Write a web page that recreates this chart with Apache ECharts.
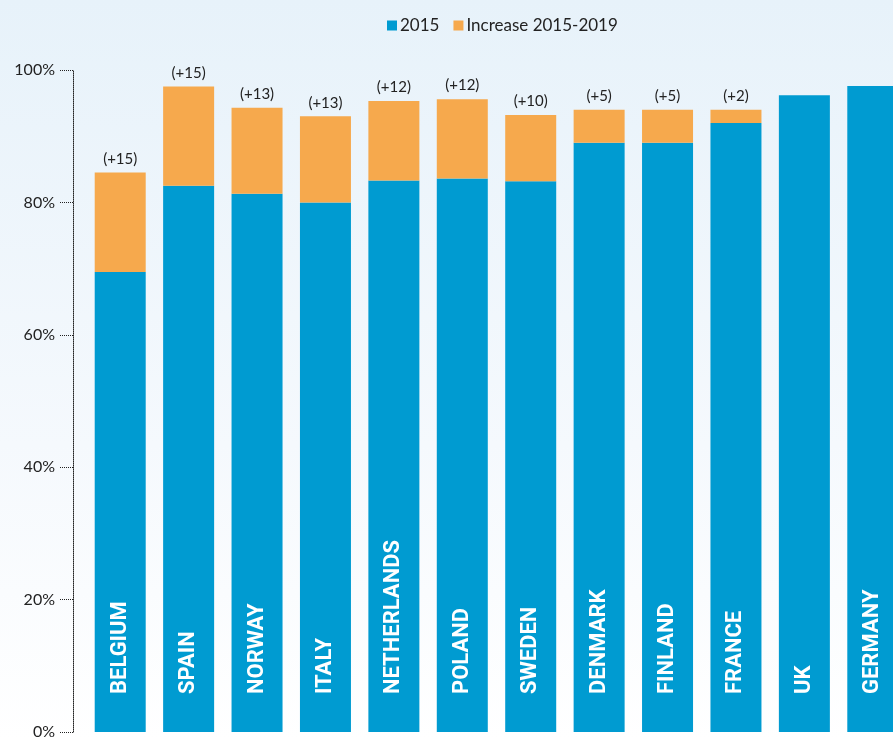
<!DOCTYPE html>
<html>
<head>
<meta charset="utf-8">
<script src="https://cdn.jsdelivr.net/npm/echarts@6/dist/echarts.min.js"></script>
<style>
  html, body { margin: 0; padding: 0; background: #ffffff; overflow: hidden; }
  #chart { width: 930px; height: 740px; }
</style>
</head>
<body>
<div id="chart"></div>
<script>
// Share of population, 2015 level and increase up to 2019 (percentage points)
const countries = ['BELGIUM', 'SPAIN', 'NORWAY', 'ITALY', 'NETHERLANDS', 'POLAND', 'SWEDEN', 'DENMARK', 'FINLAND', 'FRANCE', 'UK', 'GERMANY'];
const base2015 = [69.5, 82.5, 81.3, 80, 83.3, 83.6, 83.2, 89, 89, 92, 96.2, 97.6];
const increase = [15, 15, 13, 13, 12, 12, 10, 5, 5, 2, 0, 0];
const yTicks = [0, 20, 40, 60, 80, 100];

const BLUE = '#009bd1';
const ORANGE = '#f6a94d';

const chart = echarts.init(document.getElementById('chart'), null, { renderer: 'canvas' });

chart.setOption({
  backgroundColor: {
    type: 'linear', x: 0, y: 0, x2: 0, y2: 1,
    colorStops: [
      { offset: 0, color: '#e7f2fa' },
      { offset: 0.6, color: '#f5f9fd' },
      { offset: 1, color: '#ffffff' }
    ]
  },
  animation: false,
  textStyle: { fontFamily: 'Lato, "Open Sans", sans-serif' },
  legend: {
    top: 12,
    left: 382,
    itemWidth: 10,
    itemHeight: 10,
    itemGap: 14,
    icon: 'rect',
    textStyle: { fontSize: 17, color: '#222', padding: [0, 0, 0, -2] },
    data: ['2015', 'Increase 2015-2019']
  },
  grid: { left: 86, top: 70, width: 821, bottom: 6, containLabel: false },
  xAxis: {
    type: 'category',
    data: countries,
    axisLine: { show: false },
    axisTick: { show: false },
    axisLabel: { show: false }
  },
  yAxis: {
    type: 'value',
    min: yTicks[0],
    max: yTicks[yTicks.length - 1],
    interval: 20,
    offset: 13,
    axisLine: { show: true, lineStyle: { color: '#222', type: 'dotted', width: 1 } },
    axisTick: { show: true, length: 14, lineStyle: { color: '#222', type: 'dotted', width: 1 } },
    axisLabel: {
      margin: 18,
      fontSize: 16,
      color: '#222',
      formatter: v => v + '%'
    },
    splitLine: { show: false }
  },
  series: [
    {
      name: '2015',
      type: 'bar',
      stack: 'share',
      barWidth: 51,
      data: base2015,
      itemStyle: { color: BLUE },
      label: {
        show: true,
        position: 'insideBottom',
        rotate: 90,
        align: 'left',
        verticalAlign: 'middle',
        distance: 38,
        formatter: p => p.name,
        color: '#ffffff',
        fontFamily: 'Roboto, sans-serif',
        fontWeight: 'bold',
        fontSize: 22
      }
    },
    {
      name: 'Increase 2015-2019',
      type: 'bar',
      stack: 'share',
      barWidth: 51,
      data: increase,
      itemStyle: { color: ORANGE },
      label: {
        show: true,
        position: 'top',
        distance: 6,
        color: '#222',
        fontSize: 15,
        formatter: p => (p.value > 0 ? '(+' + p.value + ')' : '')
      }
    }
  ]
});
</script>
</body>
</html>
